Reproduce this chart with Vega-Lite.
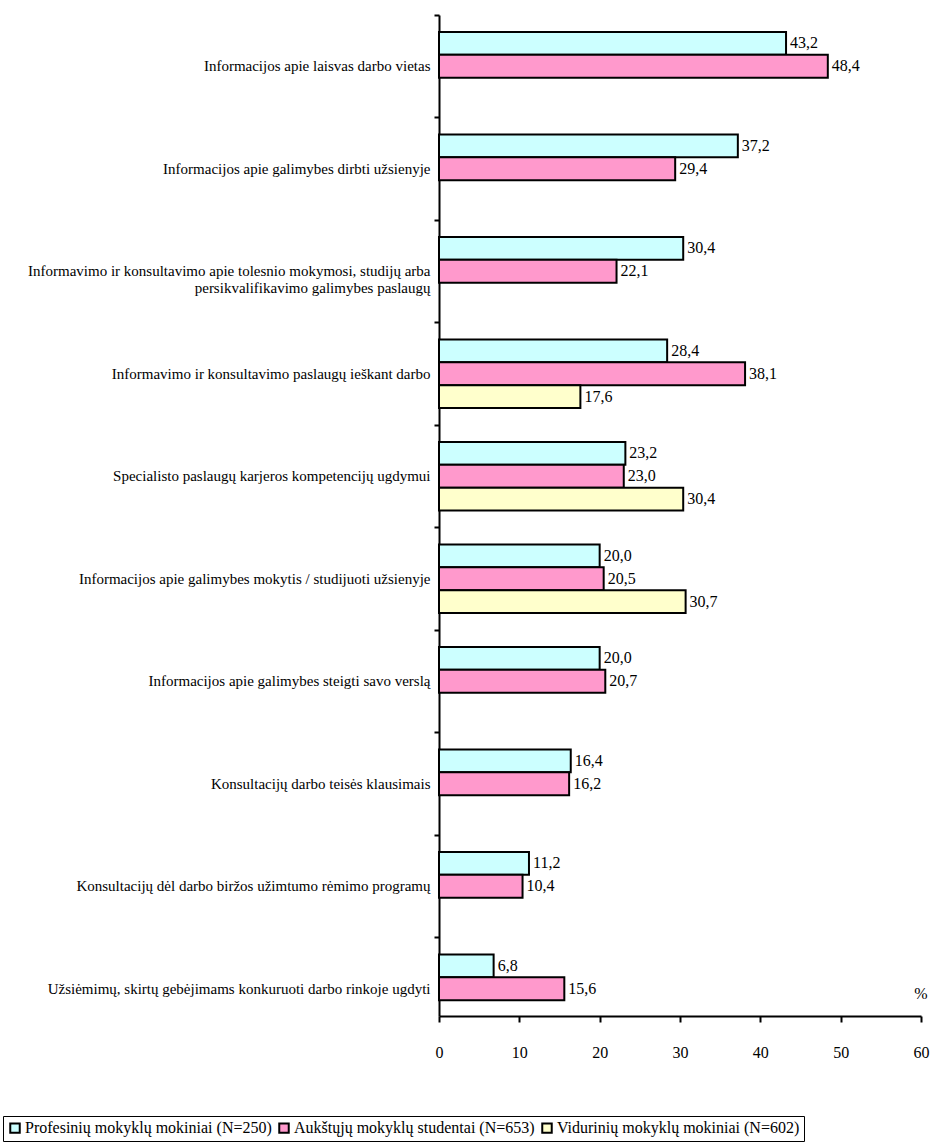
{
  "$schema": "https://vega.github.io/schema/vega-lite/v6.json",
  "width": 482,
  "height": 1001,
  "padding": {"left": 2, "top": 14, "right": 4, "bottom": 2},
  "config": {
    "font": "Liberation Serif",
    "view": {"stroke": null},
    "locale": {"number": {"decimal": ",", "thousands": " ", "grouping": [3], "currency": ["", " €"]}}
  },
  "data": {
    "values": [
      {"category": "Informacijos apie laisvas darbo vietas", "group": "Profesinių mokyklų mokiniai (N=250)", "value": 43.2},
      {"category": "Informacijos apie laisvas darbo vietas", "group": "Aukštųjų mokyklų studentai (N=653)", "value": 48.4},
      {"category": "Informacijos apie galimybes dirbti užsienyje", "group": "Profesinių mokyklų mokiniai (N=250)", "value": 37.2},
      {"category": "Informacijos apie galimybes dirbti užsienyje", "group": "Aukštųjų mokyklų studentai (N=653)", "value": 29.4},
      {"category": "Informavimo ir konsultavimo apie tolesnio mokymosi, studijų arba persikvalifikavimo galimybes paslaugų", "group": "Profesinių mokyklų mokiniai (N=250)", "value": 30.4},
      {"category": "Informavimo ir konsultavimo apie tolesnio mokymosi, studijų arba persikvalifikavimo galimybes paslaugų", "group": "Aukštųjų mokyklų studentai (N=653)", "value": 22.1},
      {"category": "Informavimo ir konsultavimo paslaugų ieškant darbo", "group": "Profesinių mokyklų mokiniai (N=250)", "value": 28.4},
      {"category": "Informavimo ir konsultavimo paslaugų ieškant darbo", "group": "Aukštųjų mokyklų studentai (N=653)", "value": 38.1},
      {"category": "Informavimo ir konsultavimo paslaugų ieškant darbo", "group": "Vidurinių mokyklų mokiniai (N=602)", "value": 17.6},
      {"category": "Specialisto paslaugų karjeros kompetencijų ugdymui", "group": "Profesinių mokyklų mokiniai (N=250)", "value": 23.2},
      {"category": "Specialisto paslaugų karjeros kompetencijų ugdymui", "group": "Aukštųjų mokyklų studentai (N=653)", "value": 23.0},
      {"category": "Specialisto paslaugų karjeros kompetencijų ugdymui", "group": "Vidurinių mokyklų mokiniai (N=602)", "value": 30.4},
      {"category": "Informacijos apie galimybes mokytis / studijuoti užsienyje", "group": "Profesinių mokyklų mokiniai (N=250)", "value": 20.0},
      {"category": "Informacijos apie galimybes mokytis / studijuoti užsienyje", "group": "Aukštųjų mokyklų studentai (N=653)", "value": 20.5},
      {"category": "Informacijos apie galimybes mokytis / studijuoti užsienyje", "group": "Vidurinių mokyklų mokiniai (N=602)", "value": 30.7},
      {"category": "Informacijos apie galimybes steigti savo verslą", "group": "Profesinių mokyklų mokiniai (N=250)", "value": 20.0},
      {"category": "Informacijos apie galimybes steigti savo verslą", "group": "Aukštųjų mokyklų studentai (N=653)", "value": 20.7},
      {"category": "Konsultacijų darbo teisės klausimais", "group": "Profesinių mokyklų mokiniai (N=250)", "value": 16.4},
      {"category": "Konsultacijų darbo teisės klausimais", "group": "Aukštųjų mokyklų studentai (N=653)", "value": 16.2},
      {"category": "Konsultacijų dėl darbo biržos užimtumo rėmimo programų", "group": "Profesinių mokyklų mokiniai (N=250)", "value": 11.2},
      {"category": "Konsultacijų dėl darbo biržos užimtumo rėmimo programų", "group": "Aukštųjų mokyklų studentai (N=653)", "value": 10.4},
      {"category": "Užsiėmimų, skirtų gebėjimams konkuruoti darbo rinkoje ugdyti", "group": "Profesinių mokyklų mokiniai (N=250)", "value": 6.8},
      {"category": "Užsiėmimų, skirtų gebėjimams konkuruoti darbo rinkoje ugdyti", "group": "Aukštųjų mokyklų studentai (N=653)", "value": 15.6}
    ]
  },
  "encoding": {
    "y": {
      "field": "category",
      "type": "nominal",
      "sort": null,
      "scale": {"range": [0, 1025], "paddingInner": 0, "paddingOuter": 0},
      "axis": {
        "title": null,
        "bandPosition": 0,
        "domainColor": "black",
        "domainWidth": 2,
        "domainDash": [1001, 3000],
        "tickColor": "black",
        "tickWidth": 2,
        "tickSize": 5,
        "labelPadding": 4,
        "labelFontSize": 15,
        "labelColor": "black",
        "labelLimit": 500,
        "labelExpr": "datum.label == 'Informavimo ir konsultavimo apie tolesnio mokymosi, studijų arba persikvalifikavimo galimybes paslaugų' ? ['Informavimo ir konsultavimo apie tolesnio mokymosi, studijų arba', 'persikvalifikavimo galimybes paslaugų'] : datum.label"
      }
    },
    "yOffset": {
      "field": "group",
      "type": "nominal",
      "sort": null,
      "scale": {
        "domain": ["Profesinių mokyklų mokiniai (N=250)", "Aukštųjų mokyklų studentai (N=653)", "Vidurinių mokyklų mokiniai (N=602)"],
        "paddingInner": 0,
        "paddingOuter": 0.75
      }
    },
    "x": {
      "field": "value",
      "type": "quantitative",
      "scale": {"domain": [0, 60], "nice": false},
      "axis": {
        "title": "%",
        "titleFontSize": 16,
        "titleFontWeight": "normal",
        "titleColor": "black",
        "titleX": 488,
        "titleY": -18,
        "titleAlign": "right",
        "titleBaseline": "alphabetic",
        "values": [0, 10, 20, 30, 40, 50, 60],
        "format": "d",
        "grid": false,
        "domainColor": "black",
        "domainWidth": 2,
        "tickColor": "black",
        "tickWidth": 2,
        "tickSize": 6,
        "labelPadding": 22,
        "labelFontSize": 16,
        "labelColor": "black",
        "labelFlush": false
      }
    }
  },
  "layer": [
    {
      "mark": {"type": "bar", "stroke": "black", "strokeWidth": 2},
      "encoding": {
        "color": {
          "field": "group",
          "type": "nominal",
          "sort": null,
          "scale": {
            "domain": ["Profesinių mokyklų mokiniai (N=250)", "Aukštųjų mokyklų studentai (N=653)", "Vidurinių mokyklų mokiniai (N=602)"],
            "range": ["#CCFFFF", "#FF99CC", "#FFFFCC"]
          },
          "legend": {
            "title": null,
            "orient": "none",
            "direction": "horizontal",
            "legendX": -436,
            "legendY": 1101,
            "strokeColor": "black",
            "padding": 4,
            "symbolType": "square",
            "symbolSize": 90,
            "symbolStrokeColor": "black",
            "symbolStrokeWidth": 2,
            "symbolOpacity": 1,
            "labelFontSize": 16,
            "labelColor": "black",
            "labelLimit": 400,
            "labelOffset": 2,
            "columnPadding": 3
          }
        }
      }
    },
    {
      "mark": {"type": "text", "align": "left", "baseline": "middle", "dx": 4, "fontSize": 16, "color": "black"},
      "encoding": {
        "text": {"field": "value", "type": "quantitative", "format": ".1f"}
      }
    }
  ]
}
